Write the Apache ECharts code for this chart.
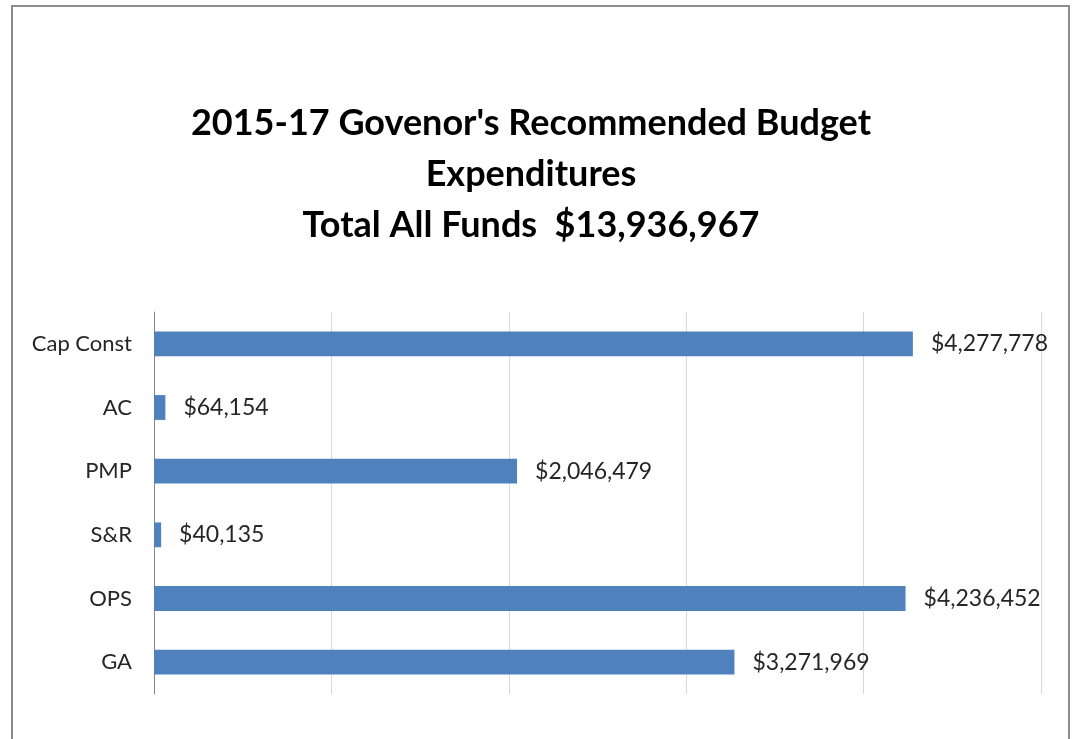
<!DOCTYPE html>
<html>
<head>
<meta charset="utf-8">
<script src="https://cdn.jsdelivr.net/npm/echarts@6/dist/echarts.min.js"></script>
<style>
  html, body { margin: 0; padding: 0; background: #fff; }
  #chart { width: 1074px; height: 739px; }
</style>
</head>
<body>
<div id="chart"></div>
<script>
// Budget categories (bottom to top on the category axis)
const categories = ['GA', 'OPS', 'S&R', 'PMP', 'AC', 'Cap Const'];
const expenditures = [3271969, 4236452, 40135, 2046479, 64154, 4277778];
const titleLines = [
  "2015-17 Govenor's Recommended Budget",
  'Expenditures',
  'Total All Funds  $13,936,967'
];

const fmtMoney = v => '$' + v.toLocaleString('en-US');

const chart = echarts.init(document.getElementById('chart'));
chart.setOption({
  backgroundColor: '#ffffff',
  animation: false,
  title: {
    text: titleLines.join('\n'),
    left: 526,
    textAlign: 'center',
    top: 93,
    textStyle: {
      fontFamily: 'Lato',
      fontWeight: 'bold',
      fontSize: 36,
      lineHeight: 51,
      color: '#000000'
    }
  },
  graphic: [{
    type: 'rect',
    shape: { x: 12, y: 6, width: 1057, height: 760 },
    style: { fill: 'none', stroke: '#8c8c8c', lineWidth: 2 },
    silent: true
  }],
  grid: { left: 154, right: 33, top: 312, bottom: 45 },
  xAxis: {
    type: 'value',
    min: 0,
    max: 5000000,
    interval: 1000000,
    axisLine: { show: false },
    axisTick: { show: false },
    axisLabel: { show: false },
    splitLine: { lineStyle: { color: '#d9d9d9', width: 1 } }
  },
  yAxis: {
    type: 'category',
    data: categories,
    axisLine: { lineStyle: { color: '#868686', width: 1 } },
    axisTick: { show: false },
    axisLabel: {
      fontFamily: 'Lato',
      fontSize: 22,
      color: '#262626',
      margin: 22
    }
  },
  series: [{
    type: 'bar',
    data: expenditures,
    barWidth: '39%',
    itemStyle: { color: '#4f81bd' },
    label: {
      show: true,
      position: 'right',
      distance: 18,
      fontFamily: 'Lato',
      fontSize: 23,
      color: '#262626',
      formatter: p => fmtMoney(p.value)
    }
  }]
});
</script>
</body>
</html>
